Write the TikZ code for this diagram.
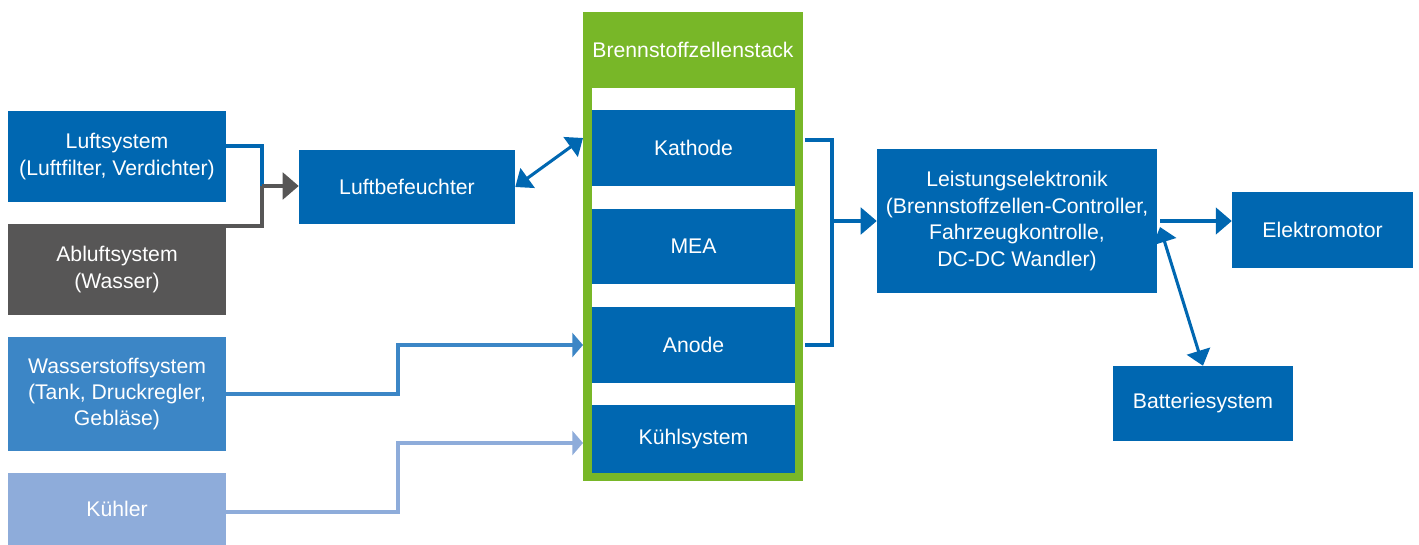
\documentclass[tikz,border=0pt]{standalone}
\usepackage{fontspec}
\setmainfont{Liberation Sans}
\usetikzlibrary{arrows.meta}
\definecolor{mblue}{RGB}{0,103,177}
\definecolor{mgray}{RGB}{87,86,86}
\definecolor{hblue}{RGB}{60,134,198}
\definecolor{lblue}{RGB}{142,172,218}
\definecolor{mgreen}{RGB}{120,183,40}
\tikzset{
  box/.style={inner sep=0pt, text=white, align=center, font=\fontsize{15.9}{19.8}\selectfont},
  conn/.style={line width=2.3pt},
  arr/.style={-{Triangle[length=12pt,width=20pt]}},
  darr/.style={{Triangle[length=11.5pt,width=18pt]}-{Triangle[length=11.5pt,width=18pt]}},
  sarr/.style={-{Triangle[length=8pt,width=18pt]}},
}
\begin{document}
\begin{tikzpicture}[x=0.75pt,y=-0.75pt]
\useasboundingbox (0,0) rectangle (1419,545);
% left column
\node[box, fill=mblue, minimum width=163.5pt, minimum height=68.25pt] (luft) at (117,156.5) {Luftsystem\\(Luftfilter, Verdichter)};
\node[box, fill=mgray, minimum width=163.5pt, minimum height=68.25pt] (abluft) at (117,269.5) {Abluftsystem\\(Wasser)};
\node[box, fill=hblue, minimum width=163.5pt, minimum height=85.5pt] (wasser) at (117,394) {Wasserstoffsystem\\(Tank, Druckregler,\\Gebläse)};
\node[box, fill=lblue, minimum width=163.5pt, minimum height=54pt] (kuehler) at (117,509) {Kühler};
\node[box, fill=mblue, minimum width=162pt, minimum height=55.5pt] (befeuchter) at (407,187) {Luftbefeuchter};
% stack
\node[inner sep=0pt, fill=mgreen, minimum width=165pt, minimum height=351.75pt] (stack) at (693,246.5) {};
\node[box] (stacktitle) at (693,50) {Brennstoffzellenstack};
\node[inner sep=0pt, fill=white, minimum width=152.25pt, minimum height=288.75pt] (stackin) at (693.5,280.5) {};
\node[box, fill=mblue, minimum width=152.25pt, minimum height=57pt] (kath) at (693.5,148) {Kathode};
\node[box, fill=mblue, minimum width=152.25pt, minimum height=56.25pt] (mea) at (693.5,246.5) {MEA};
\node[box, fill=mblue, minimum width=152.25pt, minimum height=57pt] (anode) at (693.5,345) {Anode};
\node[box, fill=mblue, minimum width=152.25pt, minimum height=51pt] (kuehlsys) at (693.5,439) {Kühlsystem};
% right
\node[box, fill=mblue, minimum width=210pt, minimum height=108pt] (le) at (1017,221) {Leistungselektronik\\(Brennstoffzellen-Controller,\\Fahrzeugkontrolle,\\DC-DC Wandler)};
\node[box, fill=mblue, minimum width=135.75pt, minimum height=57pt] (motor) at (1322.5,230) {Elektromotor};
\node[box, fill=mblue, minimum width=135pt, minimum height=56.25pt] (batt) at (1203,403.5) {Batteriesystem};
% coordinates
\coordinate (j0) at (262,146);
\coordinate (j1) at (262,186);
\coordinate (j2) at (262,226);
\coordinate (kt) at (583,138);
\coordinate (w1) at (398,394);
\coordinate (w2) at (398,345);
\coordinate (w3) at (583,345);
\coordinate (c1) at (398,512);
\coordinate (c2) at (398,443);
\coordinate (c3) at (583,443);
\coordinate (b1) at (805,140);
\coordinate (b2) at (832,140);
\coordinate (b3) at (832,345);
\coordinate (b4) at (805,345);
\coordinate (b5) at (832,221);
\coordinate (e1) at (1160,221);
\coordinate (e2) at (1160,227);
% connectors
\draw[conn, mgray] (abluft.east |- j2) -- (j2) -- (j1);
\draw[conn, mblue] (luft.east |- j0) -- (j0) -- (j1);
\draw[conn, mgray, arr] (j1) -- (befeuchter.west |- j1);
\draw[conn, mblue, darr] (befeuchter.east) -- (kt);
\draw[conn, hblue, sarr] (wasser.east |- w1) -- (w1) -- (w2) -- (w3);
\draw[conn, lblue, sarr] (kuehler.east |- c1) -- (c1) -- (c2) -- (c3);
\draw[conn, mblue] (b1) -- (b2) -- (b3) -- (b4);
\draw[conn, mblue, arr] (b5) -- (le.west |- b5);
\draw[conn, mblue, arr] (e1) -- (motor.west |- e1);
\draw[conn, mblue, darr] (e2) -- (batt.north);
\end{tikzpicture}
\end{document}
